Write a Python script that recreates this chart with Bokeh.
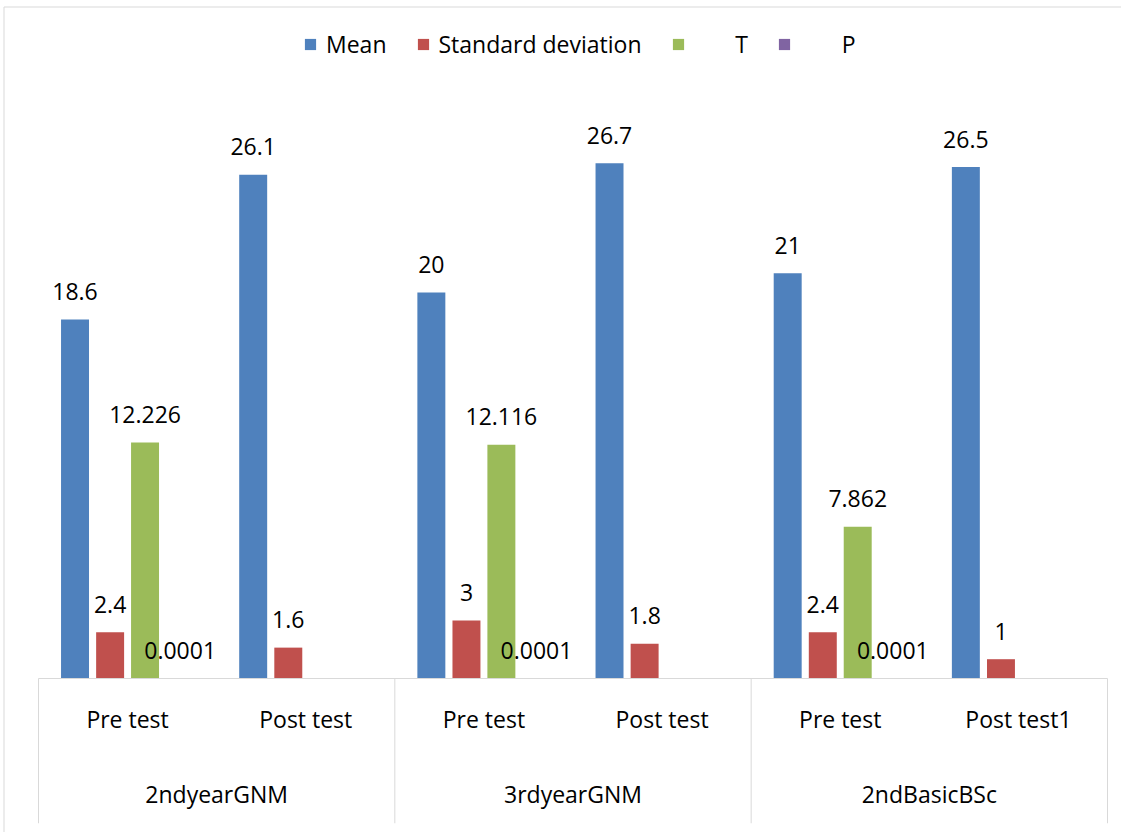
from bokeh.plotting import figure
from bokeh.models import ColumnDataSource, Range1d, LinearAxis, FixedTicker, Legend, LegendItem
from bokeh.core.properties import value
from bokeh.embed import file_html
from bokeh.resources import INLINE

# ---- data ----
groups = ["2ndyearGNM", "3rdyearGNM", "2ndBasicBSc"]
tests = ["Pre test", "Post test", "Pre test", "Post test", "Pre test", "Post test1"]
series_names = ["Mean", "Standard deviation", "T", "P"]
mean = [18.6, 26.1, 20, 26.7, 21, 26.5]
sd = [2.4, 1.6, 3, 1.8, 2.4, 1]
t_val = [12.226, None, 12.116, None, 7.862, None]
p_val = [0.0001, None, 0.0001, None, 0.0001, None]
colors = ["#4F81BD", "#C0504D", "#9BBB59", "#8064A2"]

# ---- layout constants ----
W, H = 1121, 832
PXX = 1069 / 6.0
PXY = 19.3
x_start = -38 / PXX
x_end = 6 + (W - 1107) / PXX
y_top = 678 / PXY
y_bot = -(H - 678) / PXY
FONT = "Open Sans"
BORDER = "#d9d9d9"

p = figure(width=W, height=H, x_range=Range1d(x_start, x_end), y_range=Range1d(y_bot, y_top),
           x_axis_type=None, y_axis_type=None, toolbar_location=None, output_backend="svg",
           min_border=0, outline_line_color=None, background_fill_color="white",
           border_fill_color="white")

# chart-area border (left and top edges visible in the reference)
bx = (3.5 - 38) / PXX
by = (678 - 6.5) / PXY
p.segment(x0=[bx, bx], y0=[y_bot, by], x1=[bx, x_end], y1=[by, by],
          line_color=BORDER, line_width=1)

offsets = [-0.295, -0.098, 0.098, 0.295]
bar_w = 0.157
renderers = []
for vals, color, off in zip([mean, sd, t_val, p_val], colors, offsets):
    xs = [i + 0.5 + off for i, v in enumerate(vals) if v is not None]
    tops = [v for v in vals if v is not None]
    labels = [f"{v:g}" for v in tops]
    src = ColumnDataSource(dict(x=xs, top=tops, label=labels))
    r = p.vbar(x="x", top="top", bottom=0, width=bar_w, source=src,
               fill_color=color, line_color=None)
    renderers.append(r)
    p.text(x="x", y="top", text="label", source=src, text_align="center",
           text_baseline="alphabetic", y_offset=-28, text_font=value(FONT),
           text_font_size="23px", text_color="black")

# group separators (category-table style axis)
bounds_x = [2 * k for k in range(len(groups) + 1)]
p.segment(x0=bounds_x, y0=[0] * len(bounds_x), x1=bounds_x, y1=[-7.5] * len(bounds_x),
          line_color=BORDER, line_width=1)

ticks1 = [i + 0.5 for i in range(len(tests))]
ax1 = LinearAxis(fixed_location=0, ticker=FixedTicker(ticks=ticks1),
                 major_label_overrides={t: lab for t, lab in zip(ticks1, tests)},
                 bounds=(0, 6), axis_line_color=BORDER, major_tick_line_color=None,
                 minor_tick_line_color=None, major_label_standoff=18,
                 major_label_text_font=FONT, major_label_text_font_size="23px",
                 major_label_text_color="black")
ticks2 = [2 * k + 1 for k in range(len(groups))]
ax2 = LinearAxis(fixed_location=0, ticker=FixedTicker(ticks=ticks2),
                 major_label_overrides={t: lab for t, lab in zip(ticks2, groups)},
                 axis_line_color=None, major_tick_line_color=None,
                 minor_tick_line_color=None, major_label_standoff=93,
                 major_label_text_font=FONT, major_label_text_font_size="23px",
                 major_label_text_color="black")
p.add_layout(ax1, "below")
p.add_layout(ax2, "below")

nb = "\u00a0" * 7
legend_labels = ["Mean", "Standard deviation", nb + "T", nb + "P"]
legend = Legend(items=[LegendItem(label=l, renderers=[r]) for l, r in zip(legend_labels, renderers)],
                orientation="horizontal", location=(303, 772), glyph_width=14, glyph_height=14,
                label_standoff=9, spacing=29, padding=0, margin=0, border_line_color=None,
                background_fill_alpha=0, label_text_font=FONT, label_text_font_size="23px",
                label_text_color="black")
p.add_layout(legend)

open("out.html", "w").write(file_html(p, INLINE))
